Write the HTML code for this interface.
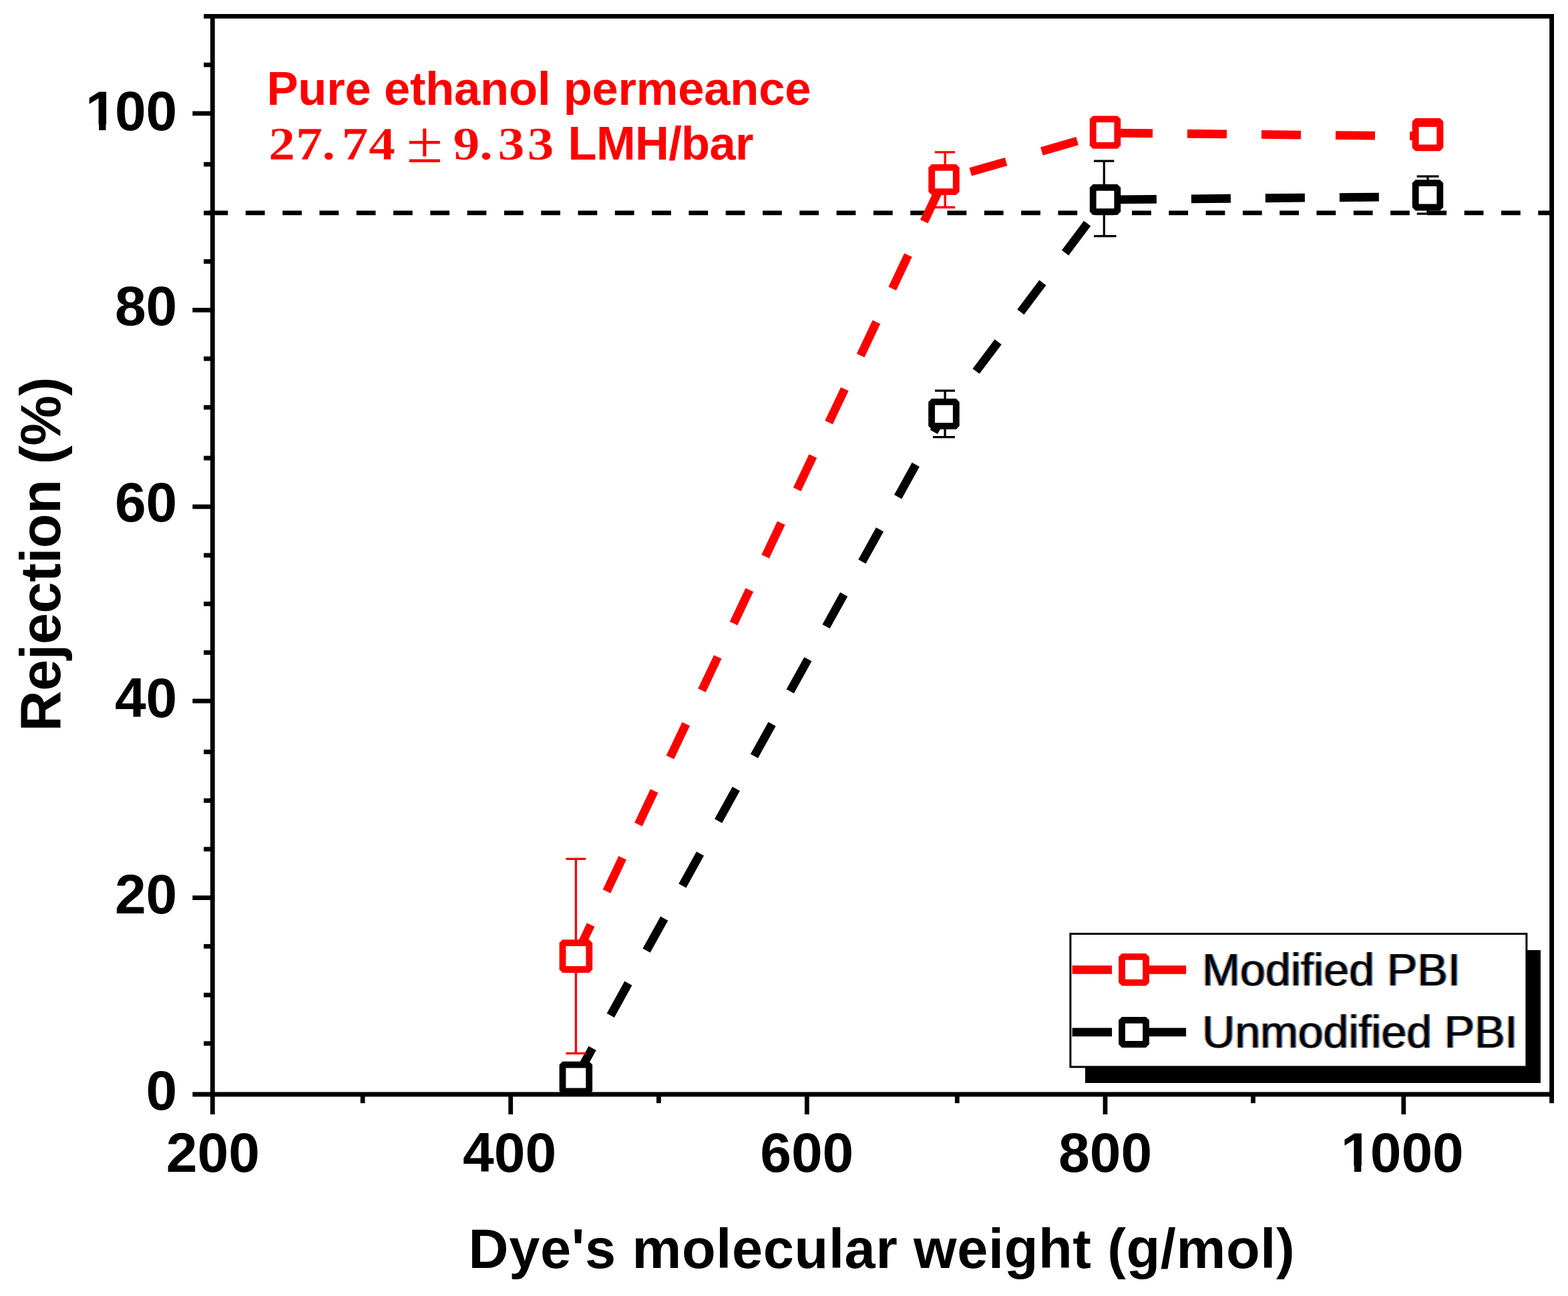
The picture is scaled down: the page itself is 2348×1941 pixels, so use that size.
<!DOCTYPE html>
<html lang="en"><head><meta charset="utf-8">
<style>
html,body{margin:0;padding:0;background:#fff;}
body{width:2348px;height:1941px;overflow:hidden;}
svg{display:block;}
text{font-family:"Liberation Sans",Arial,Helvetica,sans-serif;}
.b{font-weight:bold;}
.ser{font-family:"Liberation Serif","DejaVu Serif",serif;font-weight:bold;}
</style></head><body>
<svg width="2348" height="1941" viewBox="0 0 2348 1941">
<defs><filter id="ct" x="-3%" y="-20%" width="106%" height="140%" color-interpolation-filters="sRGB"><feOffset in="SourceAlpha" dx="-2.4" dy="0" result="l"/><feFlood flood-color="#f4a460"/><feComposite in2="l" operator="in" result="lo"/><feOffset in="SourceAlpha" dx="2.4" dy="0" result="r"/><feFlood flood-color="#2f80d8"/><feComposite in2="r" operator="in" result="rb"/><feMerge><feMergeNode in="lo"/><feMergeNode in="rb"/><feMergeNode in="SourceGraphic"/></feMerge></filter></defs>
<rect x="0" y="0" width="2348" height="1941" fill="#ffffff"/>
<g id="refline"><line x1="312.5" y1="318.8" x2="2323.6" y2="318.8" stroke="#000" stroke-width="6.7" stroke-dasharray="28.8 26.5"/></g>
<g id="axes" stroke="#000" stroke-width="6.8" fill="none" stroke-linecap="butt">
<line x1="318.3" y1="20.9" x2="318.3" y2="1669.0"/>
<line x1="2323.6" y1="20.9" x2="2323.6" y2="1652.2"/>
<line x1="305.1" y1="24.3" x2="2327.0" y2="24.3"/>
<line x1="288.3" y1="1639.0" x2="2327.0" y2="1639.0"/>
<line x1="305.1" y1="1562.8" x2="318.3" y2="1562.8"/>
<line x1="305.1" y1="1490.2" x2="318.3" y2="1490.2"/>
<line x1="305.1" y1="1417.3" x2="318.3" y2="1417.3"/>
<line x1="288.3" y1="1344.6" x2="318.3" y2="1344.6"/>
<line x1="305.1" y1="1271.8" x2="318.3" y2="1271.8"/>
<line x1="305.1" y1="1199.0" x2="318.3" y2="1199.0"/>
<line x1="305.1" y1="1126.1" x2="318.3" y2="1126.1"/>
<line x1="288.3" y1="1049.9" x2="318.3" y2="1049.9"/>
<line x1="305.1" y1="977.3" x2="318.3" y2="977.3"/>
<line x1="305.1" y1="904.4" x2="318.3" y2="904.4"/>
<line x1="305.1" y1="831.7" x2="318.3" y2="831.7"/>
<line x1="288.3" y1="758.9" x2="318.3" y2="758.9"/>
<line x1="305.1" y1="686.1" x2="318.3" y2="686.1"/>
<line x1="305.1" y1="610.1" x2="318.3" y2="610.1"/>
<line x1="305.1" y1="537.2" x2="318.3" y2="537.2"/>
<line x1="288.3" y1="464.4" x2="318.3" y2="464.4"/>
<line x1="305.1" y1="391.6" x2="318.3" y2="391.6"/>
<line x1="305.1" y1="319.0" x2="318.3" y2="319.0"/>
<line x1="305.1" y1="246.1" x2="318.3" y2="246.1"/>
<line x1="288.3" y1="169.9" x2="318.3" y2="169.9"/>
<line x1="305.1" y1="97.1" x2="318.3" y2="97.1"/>
<line x1="543.1" y1="1639.0" x2="543.1" y2="1652.2"/>
<line x1="764.7" y1="1639.0" x2="764.7" y2="1669.0"/>
<line x1="986.4" y1="1639.0" x2="986.4" y2="1652.2"/>
<line x1="1208.3" y1="1639.0" x2="1208.3" y2="1669.0"/>
<line x1="1433.3" y1="1639.0" x2="1433.3" y2="1652.2"/>
<line x1="1655.0" y1="1639.0" x2="1655.0" y2="1669.0"/>
<line x1="1876.5" y1="1639.0" x2="1876.5" y2="1652.2"/>
<line x1="2101.8" y1="1639.0" x2="2101.8" y2="1669.0"/>
</g>
<g id="ticklabels" class="b" font-size="84.0" fill="#000">
<text x="218.6" y="1661.6">0</text>
<text x="171.9 218.6" y="1367.6">20</text>
<text x="171.9 218.6" y="1073.8">40</text>
<text x="171.9 218.6" y="781.3">60</text>
<text x="171.9 218.6" y="487.2">80</text>
<text x="128.0 171.9 218.6" y="195.1">100</text>
<text x="248.8 295.5 342.2" y="1755.0">200</text>
<text x="693.0 739.7 786.4" y="1755.0">400</text>
<text x="1138.2 1184.9 1231.6" y="1755.0">600</text>
<text x="1585.0 1631.7 1678.4" y="1755.0">800</text>
<text x="2007.8 2051.7 2098.4 2145.1" y="1755.0">1000</text>
</g>
<g id="one-foot-masks" fill="#fff"><rect x="130.0" y="186.1" width="18.2" height="11.0"/><rect x="158.5" y="186.1" width="14.9" height="11.0"/><rect x="2009.8" y="1746.0" width="18.2" height="11.0"/><rect x="2038.3" y="1746.0" width="14.9" height="11.0"/></g>
<g id="titles" class="b" fill="#000">
<text x="701.6" y="1899.2" font-size="83" textLength="1237" lengthAdjust="spacing">Dye's molecular weight (g/mol)</text>
<text transform="translate(90.3,1095.5) rotate(-90)" font-size="84.5" textLength="531" lengthAdjust="spacing">Rejection (%)</text>
</g>
<g id="note" fill="#ff0000">
<text class="b" x="399.5" y="156.5" font-size="70.5" textLength="815" lengthAdjust="spacing">Pure ethanol permeance</text>
<text class="ser" stroke="#fff" stroke-width="0.4" transform="scale(1.16,1)" x="346.6 381.9 415.8 440.9 475.9" y="238.8" font-size="69.0">27.74</text>
<text transform="scale(1.11,1)" x="548.4" y="243.2" font-size="89" style="font-family:'Liberation Serif',serif">±</text>
<text class="ser" stroke="#fff" stroke-width="0.4" transform="scale(1.16,1)" x="584.9 619.0 642.7 680.6" y="238.8" font-size="69.0">9.33</text>
<text class="b" x="850.5" y="238.8" font-size="70.5" textLength="278" lengthAdjust="spacing">LMH/bar</text>
</g>
<g id="series-lines" fill="none" stroke-width="12.8">
<g stroke="#000"><line x1="862.4" y1="1614.4" x2="1413.4" y2="620.0" stroke-dasharray="55.0 56.0" stroke-dashoffset="4.0"/><line x1="1413.4" y1="620.0" x2="1655.0" y2="299.0" stroke-dasharray="55.0 56.0" stroke-dashoffset="30.9"/><line x1="1655.0" y1="299.0" x2="2138.0" y2="294.5" stroke-dasharray="59.0 52.0" stroke-dashoffset="93.1"/></g>
<g stroke="#ff0000"><line x1="862.4" y1="1432.1" x2="1413.5" y2="269.0" stroke-dasharray="55.5 55.5" stroke-dashoffset="3.5"/><line x1="1413.5" y1="269.0" x2="1655.0" y2="199.0" stroke-dasharray="55.5 55.5" stroke-dashoffset="69.6"/><line x1="1655.0" y1="199.0" x2="2138.0" y2="204.0" stroke-dasharray="59.0 52.0" stroke-dashoffset="99.0"/></g>
</g>
<g id="errorbars" fill="none" stroke-width="3.3">
<path d="M847.5 1286.4H877.3M847.5 1577.6H877.3M862.4 1286.4V1577.6" stroke="#ff0000"/>
<path d="M1400.0 227.9H1430.0M1400.0 310.5H1430.0M1415.2 227.9V310.5" stroke="#ff0000"/>
<path d="M1400.0 585.1H1430.0M1397.0 654.6H1430.0M1415.1 585.1V654.6" stroke="#000"/>
<path d="M1638.0 241.2H1668.3M1638.0 353.6H1671.5M1653.3 241.2V353.6" stroke="#000"/>
<path d="M2121.7 264.1H2154.6M2121.7 320.1H2154.6M2138.0 264.1V320.1" stroke="#000"/>
</g>
<g id="markers" fill="#fff" stroke-width="9.8" stroke-linejoin="bevel">
<rect x="842.5" y="1594.6" width="39.7" height="39.7" stroke="#000"/>
<rect x="1395.1" y="601.9" width="36.7" height="36.2" stroke="#000"/>
<rect x="1636.7" y="280.9" width="36.6" height="36.2" stroke="#000"/>
<rect x="2119.7" y="274.1" width="36.6" height="36.4" stroke="#000"/>
<rect x="842.5" y="1412.2" width="39.8" height="39.8" stroke="#ff0000"/>
<rect x="1395.2" y="250.8" width="36.6" height="36.4" stroke="#ff0000"/>
<rect x="1636.7" y="178.3" width="36.6" height="39.6" stroke="#ff0000"/>
<rect x="2119.7" y="181.8" width="36.6" height="36.4" stroke="#ff0000"/>
<rect x="2119.7" y="185.0" width="36.6" height="36.4" stroke="#ff0000"/>
</g>
<g id="legend">
<rect x="1625" y="1423" width="682" height="199" fill="#000"/>
<rect x="1602.9" y="1398.5" width="683" height="199.4" fill="#fff" stroke="#000" stroke-width="3"/>
<line x1="1605.6" y1="1452.3" x2="1777.8" y2="1452.3" stroke="#ff0000" stroke-width="12.8" stroke-dasharray="59.5 51.5"/>
<rect x="1680.0" y="1432.9" width="36.0" height="38.8" fill="#fff" stroke="#ff0000" stroke-width="9.8" stroke-linejoin="bevel"/>
<line x1="1605.6" y1="1545.9" x2="1777.8" y2="1545.9" stroke="#000" stroke-width="12.8" stroke-dasharray="59.5 51.5"/>
<rect x="1680.0" y="1527.8" width="36.0" height="36.2" fill="#fff" stroke="#000" stroke-width="9.8" stroke-linejoin="bevel"/>
<text filter="url(#ct)" x="1800.1" y="1476.2" font-size="68" fill="#000" textLength="386.5" lengthAdjust="spacing">Modified PBI</text>
<text filter="url(#ct)" x="1800.1" y="1569.1" font-size="68" fill="#000" textLength="472" lengthAdjust="spacing">Unmodified PBI</text>
</g>
</svg>
</body></html>
